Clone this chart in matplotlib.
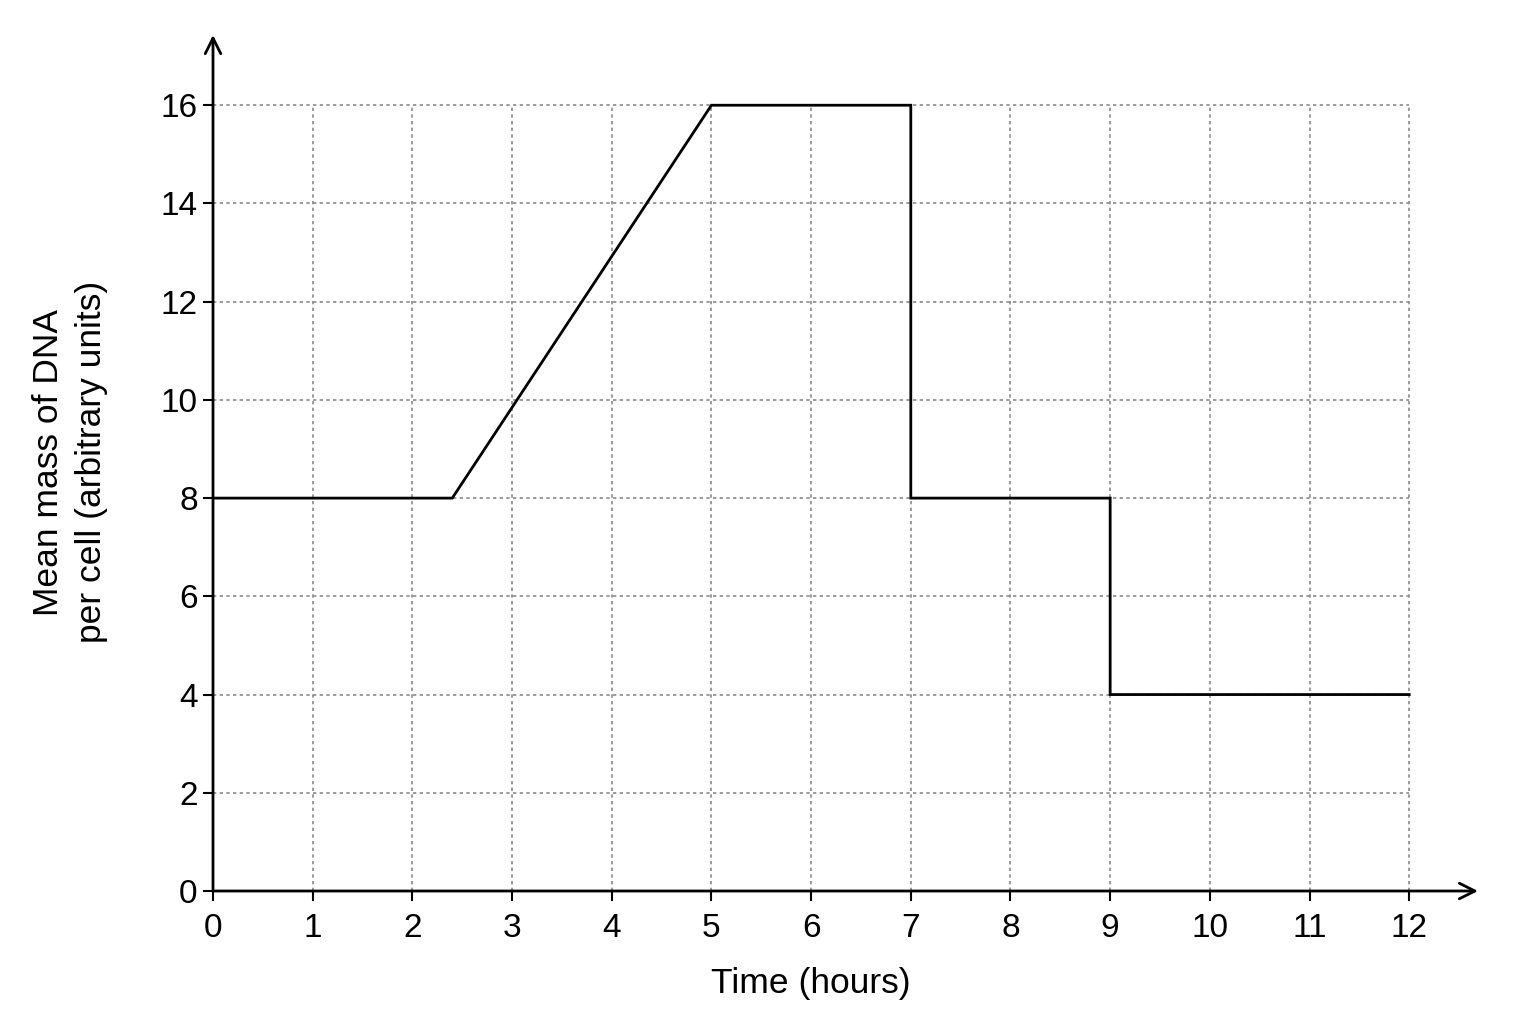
import matplotlib
matplotlib.use("Agg")
import matplotlib.pyplot as plt

time_h = [0, 2.4, 5, 7, 7, 9, 9, 12]
dna_mass = [8, 8, 16, 16, 8, 8, 4, 4]
x_ticks = list(range(0, 13))
y_ticks = list(range(0, 17, 2))

plt.rcParams['font.family'] = ['Liberation Sans', 'DejaVu Sans']

fig = plt.figure(figsize=(15.36, 10.24), dpi=100)
left = 213 / 1536
bottom = (1024 - 891) / 1024
width = (1478 - 213) / 1536
height = (891 - 35) / 1024
ax = fig.add_axes([left, bottom, width, height])
ax.set_xlim(0, 12.69)
ax.set_ylim(0, 17.43)

for s in ax.spines.values():
    s.set_visible(False)

# grid
ax.hlines(y_ticks[1:], 0, 12, colors='#8a8a8a', linestyles=(0, (2.0, 2.0)), linewidth=1.2, zorder=1)
ax.vlines(x_ticks[1:], 0, 16, colors='#8a8a8a', linestyles=(0, (2.0, 2.0)), linewidth=1.2, zorder=1)

# axes arrows
ax.annotate('', xy=(0, 1.0), xycoords='axes fraction', xytext=(0, 0), textcoords='axes fraction',
            arrowprops=dict(arrowstyle='->', lw=2.0, color='black', mutation_scale=28, shrinkA=0, shrinkB=0))
ax.annotate('', xy=(1.0, 0), xycoords='axes fraction', xytext=(0, 0), textcoords='axes fraction',
            arrowprops=dict(arrowstyle='->', lw=2.0, color='black', mutation_scale=28, shrinkA=0, shrinkB=0))

ax.plot(time_h, dna_mass, color='black', linewidth=2.0, zorder=3, solid_joinstyle='miter')

ax.set_xticks(x_ticks)
ax.set_yticks(y_ticks)
ax.tick_params(axis='both', direction='out', length=7, width=1.5, labelsize=24, colors='black')
ax.tick_params(axis='x', pad=9)
ax.tick_params(axis='y', pad=4)

fig.text(811 / 1536, 1 - 983 / 1024, 'Time (hours)', fontsize=25.5, ha='center', va='center')
fig.text(70 / 1536, 1 - 462 / 1024, 'Mean mass of DNA\nper cell (arbitrary units)', fontsize=25.5,
         ha='center', va='center', rotation=90, linespacing=1.4, multialignment='center')

fig.savefig('out.png', dpi=100, facecolor='white')
